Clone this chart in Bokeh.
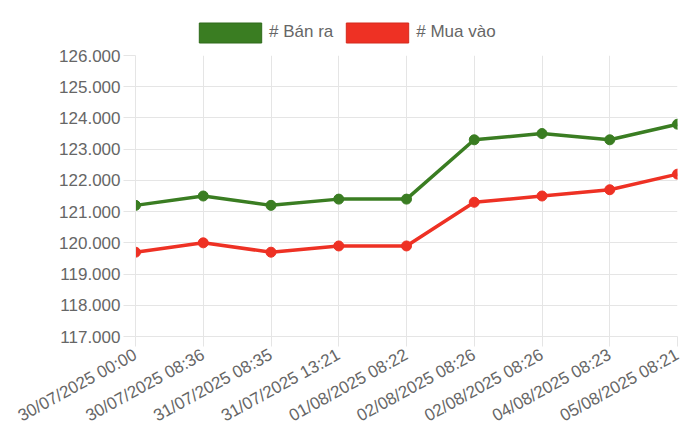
from bokeh.plotting import figure
from bokeh.layouts import column
from bokeh.models import Legend, LegendItem, ColumnDataSource, FixedTicker, Range1d, CustomJSTickFormatter
from bokeh.embed import file_html
from bokeh.resources import INLINE

labels = ["30/07/2025 00:00", "30/07/2025 08:36", "31/07/2025 08:35", "31/07/2025 13:21",
          "01/08/2025 08:22", "02/08/2025 08:26", "02/08/2025 08:26", "04/08/2025 08:23",
          "05/08/2025 08:21"]
ban_ra = [121200, 121500, 121200, 121400, 121400, 123300, 123500, 123300, 123800]
mua_vao = [119700, 120000, 119700, 119900, 119900, 121300, 121500, 121700, 122200]
y_ticks = [117000, 118000, 119000, 120000, 121000, 122000, 123000, 124000, 125000, 126000]
series_names = ["# Bán ra", "# Mua vào"]

GREEN = "#3a7d22"
RED = "#ee3124"
GRID = "#e5e5e5"
FONT = "Liberation Sans"
TXT = "#666666"

xs = list(range(len(labels)))

# legend strip on top (its proxy glyphs lie outside the visible range)
lg = figure(width=692, height=47, output_backend="svg", toolbar_location=None,
            x_range=Range1d(0, 1), y_range=Range1d(0, 1), x_axis_type=None, y_axis_type=None,
            min_border_left=0, min_border_right=0, min_border_top=0, min_border_bottom=0)
lg.outline_line_color = None
lg.grid.visible = False
hidden = ColumnDataSource(dict(l=[10], r=[11], b=[10], t=[11]))
g1 = lg.quad(left="l", right="r", bottom="b", top="t", source=hidden, fill_color=GREEN, line_color="#2e6a1a", line_width=1)
g2 = lg.quad(left="l", right="r", bottom="b", top="t", source=hidden, fill_color=RED, line_color="#d42a1d", line_width=1)
legend = Legend(items=[LegendItem(label=series_names[0], renderers=[g1]),
                       LegendItem(label=series_names[1], renderers=[g2])],
                orientation="horizontal", location=(56, 2.5), glyph_width=78, glyph_height=25,
                label_standoff=0, spacing=5, padding=0, margin=0,
                border_line_color=None, background_fill_alpha=0,
                label_text_font=FONT, label_text_font_size="17px", label_text_color=TXT,
                label_height=25)
lg.add_layout(legend, "center")

p = figure(width=692, height=390, output_backend="svg", toolbar_location=None,
           x_range=Range1d(0, len(labels) - 1), y_range=Range1d(117000, 126000),
           min_border_left=135, min_border_right=15, min_border_top=8, min_border_bottom=101)
p.outline_line_color = None

src = ColumnDataSource(dict(x=xs, ban=ban_ra, mua=mua_vao))
p.line("x", "ban", source=src, line_color=GREEN, line_width=3.5)
p.scatter("x", "ban", source=src, size=10, fill_color=GREEN, line_color=GREEN)
p.line("x", "mua", source=src, line_color=RED, line_width=3.5)
p.scatter("x", "mua", source=src, size=10, fill_color=RED, line_color=RED)

p.xaxis.ticker = FixedTicker(ticks=xs)
p.xaxis.major_label_overrides = {i: l for i, l in enumerate(labels)}
p.xaxis.major_label_orientation = 0.5
p.yaxis.ticker = FixedTicker(ticks=y_ticks)
p.yaxis.formatter = CustomJSTickFormatter(code="return (tick/1000).toFixed(3);")

for ax in (p.xaxis, p.yaxis):
    ax.axis_line_color = GRID
    ax.major_tick_line_color = GRID
    ax.major_tick_in = 0
    ax.minor_tick_line_color = None
    ax.major_label_text_font = FONT
    ax.major_label_text_font_size = "17px"
    ax.major_label_text_color = TXT
p.yaxis.major_tick_out = 12
p.yaxis.major_label_standoff = 3
p.xaxis.major_tick_out = 10
p.xaxis.major_label_standoff = 7

p.xgrid.grid_line_color = GRID
p.ygrid.grid_line_color = GRID

open("out.html", "w").write(file_html(column(lg, p, spacing=0), INLINE))
